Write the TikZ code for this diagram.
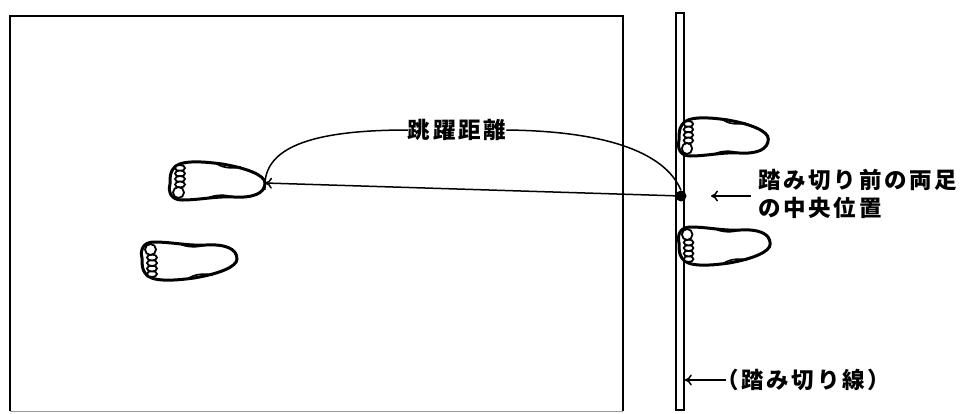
\documentclass[tikz,border=0pt]{standalone}
\usepackage{fontspec}
\newfontfamily\jp[LetterSpace=12]{Noto Sans CJK JP}
\usetikzlibrary{positioning,arrows.meta}

\tikzset{
  sole/.pic={
    % outline of the foot print
    \draw[line width=3pt, fill=white] (3,-12) .. controls (8,-21) and (30,-20) .. (52,-17)
      .. controls (76,-13) and (95,-6) .. (95,2)
      .. controls (95,13) and (82,17) .. (64,16)
      .. controls (46,15) and (30,19) .. (12,19)
      .. controls (1,19) and (-2,11) .. (0,3)
      .. controls (0,-3) and (0,-8) .. (3,-12) -- cycle;
    % toes
    \foreach \ty in {-13,-7.5,-2,3.5}
      \draw[line width=1.8pt, fill=white] (10,\ty) ellipse [x radius=5, y radius=3];
    \draw[line width=1.8pt, fill=white] (8.5,11.5) circle [radius=5.5];
    % arch marks
    \draw[line width=1.6pt] (47,-17) .. controls (54,-12.5) and (64,-12.5) .. (71,-14);
    \draw[line width=1.6pt] (38,17) .. controls (45,13.5) and (56,13.5) .. (63,16);
  },
  caption/.style={font=\jp\bfseries\fontsize{22.5}{28}\selectfont, inner sep=0pt, align=left},
  line/.style={line width=1.5pt},
  >={To[length=7pt,width=11pt]}
}

\begin{document}
\begin{tikzpicture}[x=1pt,y=-1pt]
  \useasboundingbox (0,0) rectangle (965,413);

  % landing area
  \draw[line width=2pt] (10,411) -- (10,16) -- (623,16) -- (623,411);
  \draw[line width=0.8pt, black!40] (10,411) -- (623,411);

  % take-off board
  \node[draw, line width=1.6pt, minimum width=8pt, minimum height=397pt, inner sep=0pt] (board) at (680,211.5) {};

  % feet
  \pic at (170,181) {sole};
  \pic[yscale=-1] at (142,261) {sole};
  \pic[xscale=0.94] at (679,137) {sole};
  \pic[yscale=-1, xscale=0.96] at (679,246) {sole};

  % centre between both feet before take-off
  \node[circle, fill=black, inner sep=0pt, minimum size=11pt] (mid) at (681,196) {};
  \coordinate (heel) at (265,183);

  % jump distance
  \node[caption] (jump) at (457,130) {跳躍距離};
  \draw[line, ->] (mid) -- (heel);
  \draw[line] (mid.north) .. controls (664,150) and (600,131) .. (jump.east);
  \draw[line] (jump.west) .. controls (300,130) and (262,152) .. ([yshift=-7pt]heel);

  % labels on the right
  \node[caption, anchor=west] (midtext) at (758,194) {踏み切り前の両足\\の中央位置};
  \coordinate (pa) at (751,196);
  \coordinate (pb) at (711,196);
  \draw[line, ->] (pa) -- (pb);

  \node[caption, anchor=west] (linetext) at (716,380) {（踏み切り線）};
  \draw[line, ->] ([xshift=10pt]linetext.west) -- (board.east |- linetext.west);
\end{tikzpicture}
\end{document}
